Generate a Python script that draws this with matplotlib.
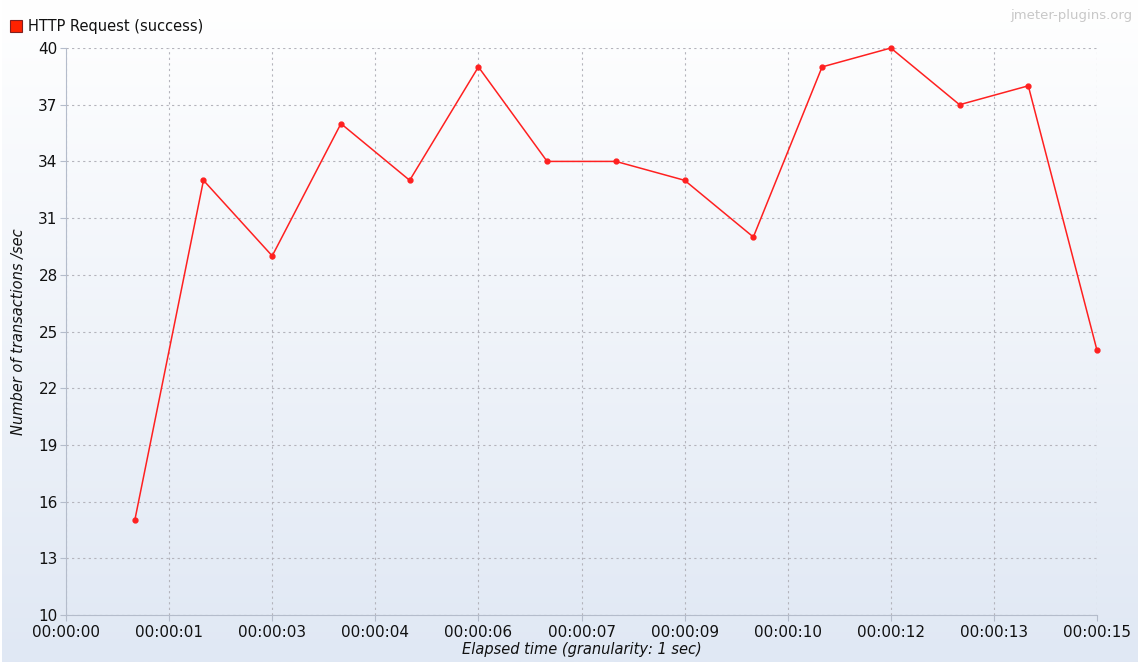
import numpy as np
import matplotlib.pyplot as plt
from matplotlib.ticker import FixedLocator, FuncFormatter

seconds = [1, 2, 3, 4, 5, 6, 7, 8, 9, 10, 11, 12, 13, 14, 15]
tps = [15, 33, 29, 36, 33, 39, 34, 34, 33, 30, 39, 40, 37, 38, 24]
series_name = 'HTTP Request (success)'

fig = plt.figure(figsize=(11.4, 6.66), dpi=100)

# gradient background like the jmeter chart panel
bg = fig.add_axes([0.002, 0.006, 0.996, 0.994], zorder=-1)
grad = np.linspace(0, 1, 256).reshape(-1, 1)
top = np.array([1.0, 1.0, 1.0])
bottom = np.array([0xe0, 0xe8, 0xf4]) / 255
img = top + (bottom - top) * grad[:, :, None]
bg.imshow(img, aspect='auto', extent=[0, 1, 0, 1])
bg.axis('off')

ax = fig.add_axes([0.0579, 0.0766, 0.9044, 0.8513])
ax.patch.set_alpha(0)
ax.plot(seconds, tps, color='#ff2020', lw=1.1, marker='o', ms=3.5, zorder=3, clip_on=False)

ax.set_xlim(0, 15)
ax.set_ylim(10, 40)
ax.xaxis.set_major_locator(FixedLocator(np.arange(0, 15.01, 1.5)))
ax.yaxis.set_major_locator(FixedLocator(np.arange(10, 40.01, 3)))
ax.xaxis.set_major_formatter(FuncFormatter(lambda v, p: '00:00:%02d' % int(v)))

ax.grid(True, color='#b4b4bc', ls=(0, (2, 3)), lw=0.8)
for s in ['top', 'right']:
    ax.spines[s].set_visible(False)
for s in ['left', 'bottom']:
    ax.spines[s].set_color('#b4bccb')
ax.tick_params(colors='#b4bccb', labelcolor='#111111', labelsize=11, length=4)
ax.tick_params(axis='x', pad=3)
ax.tick_params(axis='y', pad=2)

ax.set_xlabel('Elapsed time (granularity: 1 sec)', style='italic', fontsize=10.5, labelpad=2, color='#111111')
ax.set_ylabel('Number of transactions /sec', style='italic', fontsize=10.5, labelpad=9, color='#111111')

# legend box and watermark
fig.patches.append(plt.Rectangle((10 / 1140, 1 - 32 / 666), 12 / 1140, 12 / 666,
                                 transform=fig.transFigure, facecolor='#ff2200',
                                 edgecolor='#802020', lw=0.8))
fig.text(28 / 1140, 1 - 26 / 666, series_name, fontsize=10.5, va='center', color='#111111')
fig.text(1132 / 1140, 1 - 15 / 666, 'jmeter-plugins.org', fontsize=9.5, ha='right',
         va='center', color='#c8c8c8')

fig.savefig('out.png', dpi=100)
